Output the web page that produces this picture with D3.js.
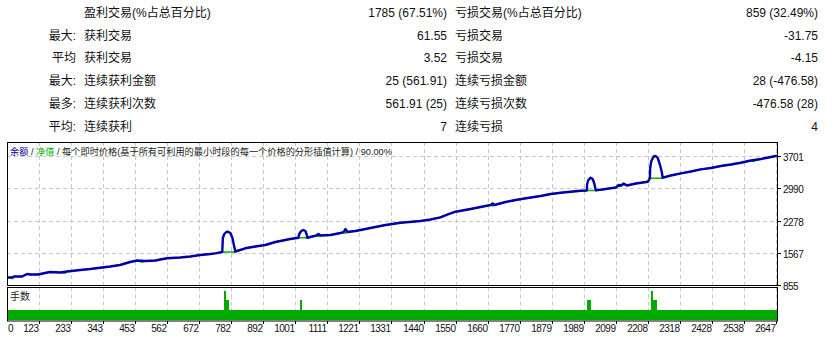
<!DOCTYPE html>
<html>
<head>
<meta charset="utf-8">
<script src="https://cdn.jsdelivr.net/npm/d3@7"></script>
<style>
  body { margin: 0; background: #fff; }
  svg { display: block; }
  text { font-family: "Liberation Sans", "Noto Sans CJK SC", sans-serif; }
</style>
</head>
<body>
<div id="chart"></div>
<script>
// stats table
var rowLabels = ["", "最大:", "平均", "最大:", "最多:", "平均:"];
var winLabels = ["盈利交易(%占总百分比)", "获利交易", "获利交易", "连续获利金额", "连续获利次数", "连续获利"];
var winValues = ["1785 (67.51%)", "61.55", "3.52", "25 (561.91)", "561.91 (25)", "7"];
var lossLabels = ["亏损交易(%占总百分比)", "亏损交易", "亏损交易", "连续亏损金额", "连续亏损次数", "连续亏损"];
var lossValues = ["859 (32.49%)", "-31.75", "-4.15", "28 (-476.58)", "-476.58 (28)", "4"];

// balance curve (trade #, balance)
var balanceIdx = [0,17,24,52,62,72,79,107,131,148,183,207,252,286,321,355,389,424,448,476,510,551,596,631,665,700,717,741,
  742,743,748,755,761,769,776,781,786,
  820,855,889,924,958,975,1003,
  1006,1013,1020,1027,1031,1034,
  1051,1065,1072,1079,1113,1148,1158,1165,1172,1199,1217,1251,1303,1355,1423,1458,1492,1520,1544,1596,1630,1665,1672,1678,1716,1751,1792,1837,1872,1906,1940,1975,1996,
  1997,2001,2009,2016,2021,2027,
  2061,2096,2106,2113,2123,2134,2165,2206,2213,
  2214,2218,2226,2233,2240,2247,2254,2257,
  2285,2320,2354,2388,2423,2457,2492,2526,2561,2595,2630,2650];
var balanceVal = [1020,1020,1043,1043,1076,1098,1087,1087,1120,1142,1131,1153,1186,1208,1237,1263,1296,1362,1395,1384,1395,1444,1462,1484,1517,1539,1554,1583,
  1737,1892,1980,2024,2031,2002,1892,1737,1594,
  1665,1704,1737,1804,1848,1870,1898,
  1980,2046,2068,2046,1980,1898,
  1925,1947,1980,1947,1958,2002,2018,2090,2024,2046,2068,2112,2179,2229,2267,2300,2348,2421,2472,2532,2576,2620,2653,2620,2686,2730,2774,2818,2862,2891,2913,2935,2940,
  3083,3171,3222,3193,3105,2944,
  2973,3006,3061,3050,3094,3050,3094,3134,3209,
  3436,3590,3690,3701,3657,3524,3348,3222,
  3271,3319,3359,3407,3436,3480,3513,3553,3601,3635,3679,3707];

// equity curve (trade #, equity)
var equityIdx = [0,17,20,24,52,62,72,79,107,131,148,183,200,207,252,286,321,355,389,424,448,465,476,510,551,596,631,665,700,717,741,786,
  820,855,889,924,958,975,1003,1034,1051,1065,1072,1079,1113,1148,1158,1165,1172,1199,1217,1251,1303,1355,1423,1458,1492,1520,1544,
  1596,1630,1665,1672,1678,1716,1751,1792,1837,1872,1906,1940,1975,1996,2027,2061,2096,2106,2113,2123,2134,2165,2206,2213,2257,
  2285,2320,2354,2388,2423,2457,2492,2526,2561,2570,2580,2595,2630,2650];
var equityVal = [1020,1020,1000,1043,1043,1076,1098,1087,1087,1120,1142,1131,1115,1153,1186,1208,1237,1263,1296,1362,1395,1360,1384,1395,1444,1462,1484,1517,1539,1554,1583,1583,
  1665,1704,1737,1804,1848,1870,1898,1898,1925,1947,1930,1947,1958,2002,2018,2000,2024,2046,2068,2112,2179,2229,2267,2300,2348,2421,2472,
  2532,2576,2620,2600,2620,2686,2730,2774,2818,2862,2891,2913,2935,2940,2940,2973,3006,3040,3030,3070,3050,3094,3134,3209,3209,
  3271,3319,3359,3407,3436,3480,3513,3553,3601,3580,3610,3635,3679,3707];

// lots (step values from trade #)
var lotIdx = [0,748,755,765,1010,1017,1998,2009,2216,2225,2237,2654];
var lotVal = [0.01,0.03,0.02,0.01,0.02,0.01,0.02,0.01,0.03,0.02,0.01,0.01];

var yTickLabels = [855, 1567, 2278, 2990, 3701];
var xTickLabels = ["0","123","233","343","453","562","672","782","892","1001","1111","1221","1331","1440","1550","1660","1770","1879","1989","2099","2208","2318","2428","2538","2647"];

var svgWidth = 835, svgHeight = 341;
var left = 7, right = 778;
var mainTop = 142, mainBottom = 285;
var lotTop = 287.5, lotBottom = 321;

var svg = d3.select("#chart").append("svg")
  .attr("width", svgWidth)
  .attr("height", svgHeight);

// ---- stats table
var rowY = function(i) { return 17 + i * 22.7; };
var table = svg.append("g").style("font-size", "12px").attr("fill", "#111");
rowLabels.forEach(function(t, i) {
  table.append("text").attr("x", 76).attr("y", rowY(i)).attr("text-anchor", "end").text(t);
  table.append("text").attr("x", 84).attr("y", rowY(i)).text(winLabels[i]);
  table.append("text").attr("x", 447).attr("y", rowY(i)).attr("text-anchor", "end").text(winValues[i]);
  table.append("text").attr("x", 455).attr("y", rowY(i)).text(lossLabels[i]);
  table.append("text").attr("x", 818).attr("y", rowY(i)).attr("text-anchor", "end").text(lossValues[i]);
});

// ---- scales
var xScale = d3.scaleLinear().domain([0, 2654]).range([left, right]);
var yScale = d3.scaleLinear().domain([855, 4010]).range([mainBottom, mainTop]);
var lotScale = d3.scaleLinear().domain([0, 0.0331]).range([lotBottom - 1, lotTop]);
var tickStep = 2647 / 24;

// ---- grid
var grid = svg.append("g")
  .attr("stroke", "#c8c8c8")
  .attr("stroke-dasharray", "4,3")
  .attr("stroke-width", 1);

xTickLabels.forEach(function(t, i) {
  if (i === 0) return;
  var x = Math.round(xScale(i * tickStep)) + 0.5;
  grid.append("line").attr("x1", x).attr("x2", x).attr("y1", mainTop).attr("y2", mainBottom);
  grid.append("line").attr("x1", x).attr("x2", x).attr("y1", lotTop).attr("y2", lotBottom);
});
yTickLabels.slice(1).forEach(function(v) {
  var y = Math.round(yScale(v)) + 0.5;
  grid.append("line").attr("x1", left).attr("x2", right).attr("y1", y).attr("y2", y);
});

// ---- title
var title = svg.append("text").attr("x", 10).attr("y", 155).style("font-size", "9.2px").attr("fill", "#222");
title.append("tspan").attr("fill", "#0000a0").text("余额");
title.append("tspan").text(" / ");
title.append("tspan").attr("fill", "#00b000").text("净值");
title.append("tspan").text(" / 每个即时价格(基于所有可利用的最小时段的每一个价格的分形插值计算) / 90.00%");

// ---- lines
var equityData = equityIdx.map(function(d, i) { return [d, equityVal[i]]; });
var balanceData = balanceIdx.map(function(d, i) { return [d, balanceVal[i]]; });

var drawLine = d3.line()
  .x(function(d) { return xScale(d[0]); })
  .y(function(d) { return yScale(d[1]); });

svg.append("path")
  .attr("d", drawLine(equityData))
  .attr("fill", "none")
  .attr("stroke", "#00b000")
  .attr("stroke-width", 1.6);

svg.append("path")
  .attr("d", drawLine(balanceData))
  .attr("fill", "none")
  .attr("stroke", "#0000a8")
  .attr("stroke-width", 2.4)
  .attr("stroke-linejoin", "round");

// ---- lots
var lotData = lotIdx.map(function(d, i) { return [d, lotVal[i]]; });
var lotArea = d3.area()
  .curve(d3.curveStepAfter)
  .x(function(d) { return xScale(d[0]); })
  .y0(lotBottom - 1)
  .y1(function(d) { return lotScale(d[1]); });

svg.append("path")
  .attr("d", lotArea(lotData))
  .attr("fill", "#00aa00")
  .attr("shape-rendering", "crispEdges");

svg.append("text").attr("x", 10).attr("y", 300).style("font-size", "10px").attr("fill", "#222").text("手数");

// ---- frames
var frames = svg.append("g").attr("fill", "none").attr("stroke", "#000").attr("stroke-width", 1);
frames.append("rect").attr("x", left + 0.5).attr("y", mainTop + 0.5)
  .attr("width", right - left - 1).attr("height", mainBottom - mainTop);
frames.append("rect").attr("x", left + 0.5).attr("y", lotTop)
  .attr("width", right - left - 1).attr("height", lotBottom - lotTop);

// ---- y axis (right)
var yAxis = svg.append("g").style("font-size", "10px").style("letter-spacing", "-0.5px");
yTickLabels.forEach(function(v) {
  var y = Math.round(yScale(v)) + 0.5;
  yAxis.append("line").attr("x1", right).attr("x2", right + 3).attr("y1", y).attr("y2", y).attr("stroke", "#000");
  yAxis.append("text").attr("x", 783).attr("y", y + 4).attr("fill", "#111").text(v);
});

// ---- x axis (bottom)
var xAxis = svg.append("g").style("font-size", "10px").style("letter-spacing", "-0.5px");
xTickLabels.forEach(function(t, i) {
  var x = Math.round(xScale(i * tickStep)) + 0.5;
  if (i > 0) {
    xAxis.append("line").attr("x1", x).attr("x2", x).attr("y1", lotBottom).attr("y2", lotBottom + 3).attr("stroke", "#000");
  }
  xAxis.append("text")
    .attr("x", i === 0 ? 8 : x - 1)
    .attr("y", 332)
    .attr("text-anchor", i === 0 ? "start" : "end")
    .attr("fill", "#111")
    .text(t);
});
</script>
</body>
</html>
